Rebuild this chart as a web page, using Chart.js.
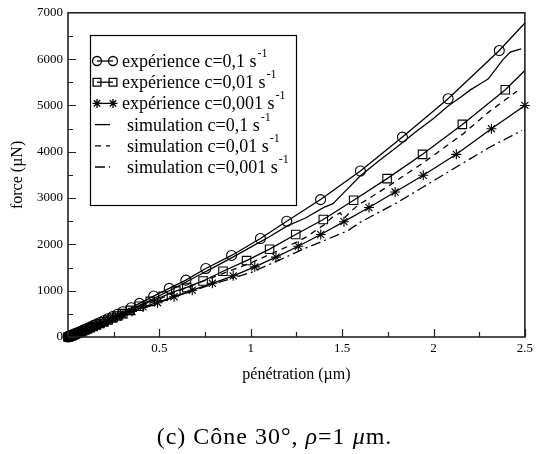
<!DOCTYPE html>
<html>
<head>
<meta charset="utf-8">
<script src="https://cdn.jsdelivr.net/npm/chart.js@4.4.0/dist/chart.umd.min.js"></script>
<style>
body { margin: 0; background: #fff; }
#wrap { position: relative; width: 537px; height: 454px; }
#caption { position: absolute; left: 6px; width: 537px; top: 423px; text-align: center;
  font-family: "Liberation Serif", serif; font-size: 24px; letter-spacing: 1px; color: #000; }
</style>
</head>
<body>
<div id="wrap">
<canvas id="forceChart" width="537" height="454"></canvas>
<div id="caption">(c) Cône 30°, <i>ρ</i>=1 <i>μ</i>m.</div>
</div>
<script>
// expérience c=0,1 s-1 (circles)
const expX1 = [0, 0.005, 0.01, 0.016, 0.022, 0.03, 0.038, 0.047, 0.057, 0.068, 0.08, 0.093, 0.107, 0.122, 0.138, 0.156, 0.175, 0.196, 0.219, 0.244, 0.271, 0.30, 0.346, 0.391, 0.469, 0.554, 0.645, 0.754, 0.895, 1.053, 1.197, 1.382, 1.60, 1.83, 2.08, 2.36, 2.50];
const expY1 = [0, 8, 16, 26, 37, 50, 64, 80, 97, 117, 138, 162, 188, 215, 245, 278, 312, 352, 395, 440, 490, 546, 632, 726, 884, 1049, 1228, 1480, 1761, 2127, 2500, 2967, 3584, 4316, 5144, 6185, 6780];
// expérience c=0,01 s-1 (squares)
const expX2 = [0, 0.005, 0.01, 0.016, 0.022, 0.03, 0.038, 0.047, 0.057, 0.068, 0.08, 0.093, 0.107, 0.122, 0.138, 0.156, 0.175, 0.196, 0.219, 0.244, 0.271, 0.30, 0.34, 0.39, 0.45, 0.52, 0.59, 0.65, 0.739, 0.848, 0.977, 1.103, 1.246, 1.397, 1.563, 1.746, 1.94, 2.158, 2.393, 2.50];
const expY2 = [0, 7, 15, 24, 34, 46, 59, 74, 90, 108, 128, 150, 174, 200, 228, 258, 290, 326, 366, 410, 455, 505, 575, 665, 770, 880, 990, 1070, 1210, 1420, 1650, 1896, 2213, 2536, 2952, 3420, 3944, 4590, 5338, 5754];
// expérience c=0,001 s-1 (stars)
const expX3 = [0, 0.005, 0.01, 0.016, 0.022, 0.03, 0.038, 0.047, 0.057, 0.068, 0.08, 0.093, 0.107, 0.122, 0.138, 0.156, 0.175, 0.196, 0.219, 0.244, 0.271, 0.30, 0.35, 0.41, 0.49, 0.58, 0.68, 0.79, 0.904, 1.022, 1.138, 1.26, 1.383, 1.51, 1.647, 1.79, 1.944, 2.125, 2.317, 2.50];
const expY3 = [0, 7, 14, 23, 32, 44, 56, 70, 85, 102, 121, 142, 165, 190, 216, 245, 276, 310, 348, 390, 433, 480, 550, 650, 740, 870, 1010, 1160, 1321, 1515, 1724, 1960, 2213, 2490, 2795, 3130, 3491, 3944, 4497, 5000];
// simulations
const simX1 = [0, 0.1, 0.2, 0.3, 0.4, 0.5, 0.6, 0.7, 0.8, 0.9, 1.0, 1.1, 1.2, 1.3, 1.4, 1.45, 1.5, 1.6, 1.7, 1.8, 1.9, 2.0, 2.08, 2.15, 2.2, 2.27, 2.3, 2.38, 2.42, 2.48];
const simY1 = [0, 165, 350, 520, 700, 890, 1090, 1300, 1510, 1720, 1940, 2160, 2400, 2570, 2800, 2880, 3080, 3480, 3800, 4100, 4420, 4720, 4990, 5180, 5330, 5500, 5575, 5990, 6150, 6220];
const simX2 = [0, 0.2, 0.4, 0.6, 0.8, 1.0, 1.2, 1.3, 1.4, 1.45, 1.49, 1.51, 1.55, 1.587, 1.75, 1.94, 2.16, 2.3, 2.457];
const simY2 = [0, 330, 650, 990, 1300, 1600, 1950, 2150, 2420, 2600, 2680, 2560, 2720, 2845, 3250, 3750, 4380, 4850, 5308];
const simX3 = [0, 0.2, 0.4, 0.6, 0.8, 1.0, 1.15, 1.3, 1.4, 1.53, 1.6, 1.8, 1.944, 2.125, 2.3, 2.484];
const simY3 = [0, 310, 600, 890, 1150, 1390, 1650, 1920, 2080, 2290, 2480, 2900, 3239, 3670, 4080, 4461];

const seriesLabels = ['expérience c=0,1 s', 'expérience c=0,01 s', 'expérience c=0,001 s',
  'simulation c=0,1 s', 'simulation c=0,01 s', 'simulation c=0,001 s'];
const yTicks = [0, 1000, 2000, 3000, 4000, 5000, 6000, 7000];
const xTicks = [0, 0.5, 1, 1.5, 2, 2.5];

const pts = (xs, ys) => xs.map((x, i) => ({x: x, y: ys[i]}));
const serif = '"Liberation Serif", serif';

const datasets = [
  {label: seriesLabels[0], data: pts(expX1, expY1), pointStyle: 'circle',
    pointRadius: c => c.dataIndex === expX1.length - 1 ? 0 : 5},
  {label: seriesLabels[1], data: pts(expX2, expY2), pointStyle: 'rect',
    pointRadius: c => c.dataIndex === expX2.length - 1 ? 0 : 6},
  {label: seriesLabels[2], data: pts(expX3, expY3), pointStyle: 'star', pointRadius: 5},
  {label: seriesLabels[3], data: pts(simX1, simY1), pointRadius: 0},
  {label: seriesLabels[4], data: pts(simX2, simY2), pointRadius: 0, borderDash: [6, 5]},
  {label: seriesLabels[5], data: pts(simX3, simY3), pointRadius: 0, borderDash: [10, 4, 2, 4]}
].map(d => Object.assign({
  borderColor: '#000', backgroundColor: 'rgba(0,0,0,0)', pointBorderColor: '#000',
  pointBackgroundColor: 'rgba(0,0,0,0)', borderWidth: 1.3, pointBorderWidth: 1.1,
  tension: 0, clip: false
}, d));

// frame, inward ticks and the boxed legend
const framePlugin = {
  id: 'frame',
  afterDraw(chart) {
    const {ctx, chartArea: a, scales: {x, y}} = chart;
    ctx.save();
    ctx.strokeStyle = '#222';
    ctx.lineWidth = 1.6;
    ctx.strokeRect(a.left, a.top, a.right - a.left, a.bottom - a.top);

    ctx.lineWidth = 1.2;
    ctx.beginPath();
    for (let v = 500; v < 7000; v += 500) {
      const py = Math.round(y.getPixelForValue(v)) + 0.5;
      ctx.moveTo(a.left, py);
      ctx.lineTo(a.left + (v % 1000 === 0 ? 8 : 5), py);
    }
    for (let i = 1; i <= 10; i++) {
      const px = Math.round(x.getPixelForValue(i * 0.25)) + 0.5;
      ctx.moveTo(px, a.bottom);
      ctx.lineTo(px, a.bottom - (i % 2 === 0 ? 8 : 5));
    }
    ctx.stroke();

    // legend
    const bx = 90, by = 35, bw = 206, bh = 170;
    ctx.fillStyle = '#fff';
    ctx.fillRect(bx, by, bw, bh);
    ctx.strokeStyle = '#000';
    ctx.lineWidth = 1.2;
    ctx.strokeRect(bx + 0.5, by + 0.5, bw, bh);

    chart.data.datasets.forEach((ds, i) => {
      const cy = by + 26 + i * 21.2;
      const isExp = i < 3;
      ctx.save();
      ctx.strokeStyle = '#000';
      ctx.lineWidth = 1.3;
      ctx.setLineDash(ds.borderDash || []);
      ctx.beginPath();
      ctx.moveTo(isExp ? 97 : 95, cy);
      ctx.lineTo(isExp ? 113 : 110, cy);
      ctx.stroke();
      ctx.setLineDash([]);
      if (isExp) {
        ctx.fillStyle = 'rgba(0,0,0,0)';
        const r = ds.pointStyle === 'rect' ? 5.5 : 4.5;
        [97, 113].forEach(px => Chart.helpers.drawPoint(ctx,
          {pointStyle: ds.pointStyle, radius: r, rotation: 0, borderWidth: 1.1}, px, cy));
      }
      ctx.restore();

      ctx.fillStyle = '#000';
      ctx.textBaseline = 'alphabetic';
      ctx.font = '18px ' + serif;
      const tx = isExp ? 122 : 127;
      ctx.fillText(ds.label, tx, cy + 6);
      const w = ctx.measureText(ds.label).width;
      ctx.font = '12px ' + serif;
      ctx.fillText('-1', tx + w + 1, cy - 4);
    });
    ctx.restore();
  }
};

new Chart(document.getElementById('forceChart'), {
  type: 'line',
  data: {datasets: datasets},
  options: {
    responsive: false,
    animation: false,
    layout: {padding: {top: 12, right: 7, left: 0, bottom: 70}},
    plugins: {legend: {display: false}, tooltip: {enabled: false}},
    scales: {
      x: {
        type: 'linear', min: 0, max: 2.5,
        afterFit: s => { s.height = 47; },
        afterBuildTicks: s => { s.ticks = xTicks.map(v => ({value: v})); },
        grid: {display: false, drawTicks: false},
        border: {display: false},
        ticks: {color: '#000', padding: 4, maxRotation: 0, font: {family: serif, size: 13},
          callback: v => v === 0 ? '' : String(v)},
        title: {display: true, text: 'pénétration (µm)', color: '#000',
          font: {family: serif, size: 16}, padding: {top: 0, bottom: 0}}
      },
      y: {
        type: 'linear', min: 0, max: 7000,
        afterFit: s => { s.width = 68; },
        afterBuildTicks: s => { s.ticks = yTicks.map(v => ({value: v})); },
        grid: {display: false, drawTicks: false},
        border: {display: false},
        ticks: {color: '#000', padding: 5, font: {family: serif, size: 13},
          callback: v => String(v)},
        title: {display: true, text: 'force (µN)', color: '#000',
          font: {family: serif, size: 16}, padding: {top: 8, bottom: 0}}
      }
    }
  },
  plugins: [framePlugin]
});
</script>
</body>
</html>
